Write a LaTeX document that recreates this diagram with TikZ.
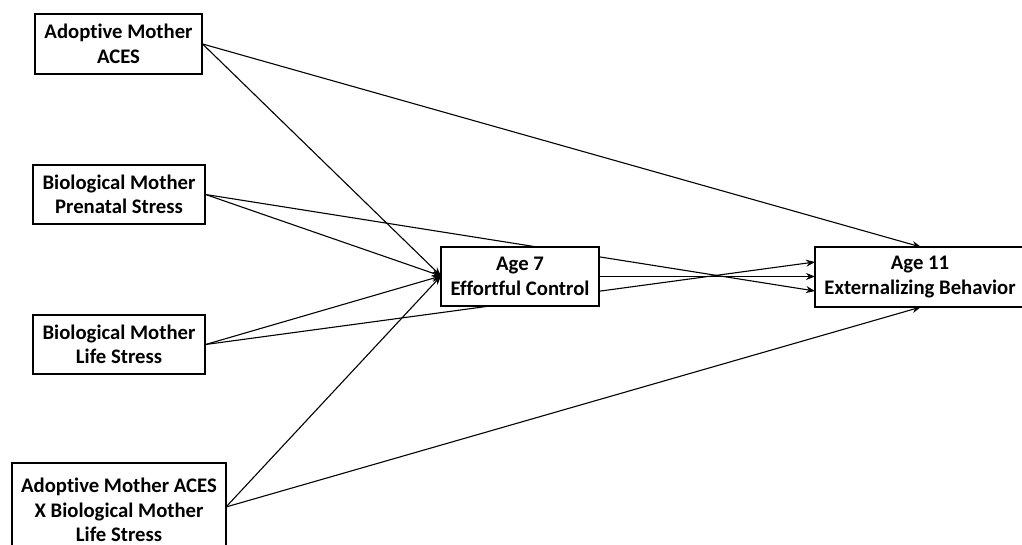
\documentclass[tikz,border=0pt]{standalone}
\usepackage{fontspec}
\setmainfont[Ligatures=NoCommon]{Carlito}
\usetikzlibrary{arrows.meta}
\begin{document}
\begin{tikzpicture}[x=1pt,y=-1pt,
  box/.style={draw=black,line width=1.2pt,fill=white,align=center,inner sep=0pt,
    font=\fontsize{20.7}{24.5}\selectfont\bfseries},
  conn/.style={line width=1.1pt,-{Stealth[length=9pt,width=7pt]}}]
\useasboundingbox (0,0) rectangle (1022,545);
\begin{scope}
\clip (0,0) rectangle (1022,545);
\path
 node[box,minimum width=167pt,minimum height=60pt] (a) at (118.5,44) {Adoptive Mother\\ACES}
 node[box,minimum width=172pt,minimum height=59pt] (b) at (119,194.5) {Biological Mother\\Prenatal Stress}
 node[box,minimum width=172pt,minimum height=59pt] (c) at (119,344.5) {Biological Mother\\Life Stress}
 node[box,minimum width=214pt,minimum height=94pt] (d) at (119,510) {Adoptive Mother ACES\\X Biological Mother\\Life Stress}
 node[box,minimum width=210pt,minimum height=60pt] (f) at (920,277) {Age 11\\Externalizing Behavior};
\coordinate (ein) at (441,276);
\coordinate (fw1) at (815,262);
\coordinate (fw2) at (815,276.5);
\coordinate (fw3) at (815,291);
\coordinate (ftop) at (921,247);
\coordinate (fbot) at (921,307);
\coordinate (dout) at (226,507);
% connectors
\draw[conn] (a.east) -- (ein);
\draw[conn] (a.east) -- (ftop);
\draw[conn] (b.east) -- (ein);
\draw[conn] (b.east) -- (fw3);
\draw[conn] (c.east) -- (ein);
\draw[conn] (c.east) -- (fw1);
\draw[conn] (dout) -- (ein);
\draw[conn] (dout) -- (fbot);
\node[box,minimum width=158pt,minimum height=59pt] (e) at (520,276.5) {Age 7\\Effortful Control};
\draw[conn] (e.east) -- (fw2);
\end{scope}
\end{tikzpicture}
\end{document}
